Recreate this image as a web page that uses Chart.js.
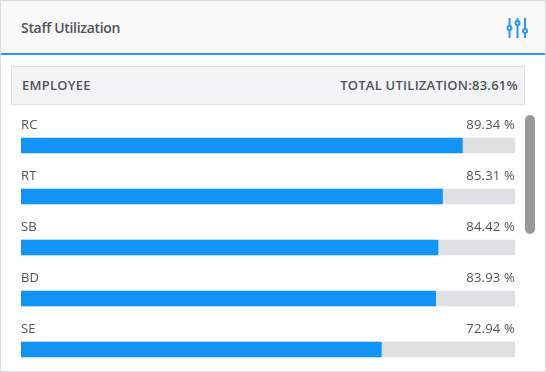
<!DOCTYPE html>
<html>
<head>
<meta charset="utf-8">
<title>Staff Utilization</title>
<script src="https://cdn.jsdelivr.net/npm/chart.js@4"></script>
<style>
  html, body { margin: 0; padding: 0; background: #fff; }
  body { font-family: "Open Sans", sans-serif; color: #4f5457; overflow: hidden; }
  .card { position: relative; width: 544px; height: 370px; border: 1px solid #d5dde6; overflow: hidden; background: #fff; }
  .head { position: absolute; left: 0; top: 0; width: 544px; height: 52px; background: #f9f9f9; border-bottom: 2px solid #2f96e8; }
  .title { position: absolute; left: 20px; top: 17px; font-size: 14px; line-height: 20px; font-weight: 600; letter-spacing: -0.32px; }
  .icon { position: absolute; left: 505px; top: 16px; }
  .bar { position: absolute; left: 10px; top: 65px; width: 512px; height: 37px; background: #f3f4f6; border: 1px solid #dfe1d8; }
  .bar span { position: absolute; top: 10px; font-size: 13px; line-height: 17px; font-weight: 600; letter-spacing: 0.25px; }
  .scroll { position: absolute; left: 524px; top: 114px; width: 10px; height: 119px; background: #999; border-radius: 5px; }
  .list { position: absolute; left: 20px; top: 119px; width: 494px; height: 251px; overflow: hidden; }
  .plot { position: relative; width: 494px; height: 255px; }
</style>
</head>
<body>
<div class="card">
  <div class="head">
    <div class="title">Staff Utilization</div>
    <svg class="icon" width="24" height="22" viewBox="0 0 24 22" fill="none" stroke="#2f96e8" stroke-width="2">
      <path d="M3.5 1v8M3.5 13v8M11.5 1v3M11.5 8v13M19 1v11M19 16v5"/>
      <circle cx="3.5" cy="11" r="2"/>
      <circle cx="11.5" cy="6" r="2"/>
      <circle cx="19" cy="14" r="2"/>
    </svg>
  </div>
  <div class="bar">
    <span style="left:10px">EMPLOYEE</span>
    <span style="right:6px">TOTAL UTILIZATION:83.61%</span>
  </div>
  <div class="list">
    <div class="plot"><canvas id="staffChart"></canvas></div>
  </div>
  <div class="scroll"></div>
</div>
<script>
// Chart data
const employees = ["RC", "RT", "SB", "BD", "SE"];
const utilization = [89.34, 85.31, 84.42, 83.93, 72.94];
const fullScale = [100, 100, 100, 100, 100];

// Name above the bar on the left, percent on the right
const rowLabels = {
  id: "rowLabels",
  afterDatasetsDraw(chart) {
    const ctx = chart.ctx;
    const y = chart.scales.y;
    const area = chart.chartArea;
    ctx.save();
    ctx.font = '13px "Open Sans"';
    ctx.letterSpacing = "0.2px";
    ctx.fillStyle = "#4f5457";
    ctx.textBaseline = "alphabetic";
    employees.forEach((name, i) => {
      const base = y.getPixelForValue(i) - 17;
      ctx.textAlign = "left";
      ctx.fillText(name, area.left, base);
      ctx.textAlign = "right";
      ctx.fillText(utilization[i].toFixed(2) + " %", area.right, base);
    });
    ctx.restore();
  }
};

new Chart(document.getElementById("staffChart"), {
  type: "bar",
  data: {
    labels: employees,
    datasets: [
      { label: "Utilization", data: utilization, backgroundColor: "#1194f6", order: 1 },
      { label: "Total", data: fullScale, backgroundColor: "#dfe0e2", order: 2 }
    ]
  },
  options: {
    indexAxis: "y",
    responsive: true,
    maintainAspectRatio: false,
    animation: false,
    grouped: false,
    barThickness: 15,
    layout: { padding: 0 },
    plugins: { legend: { display: false }, tooltip: { enabled: false } },
    scales: {
      x: { display: false, min: 0, max: 100 },
      y: { display: false }
    }
  },
  plugins: [rowLabels]
});
</script>
</body>
</html>
